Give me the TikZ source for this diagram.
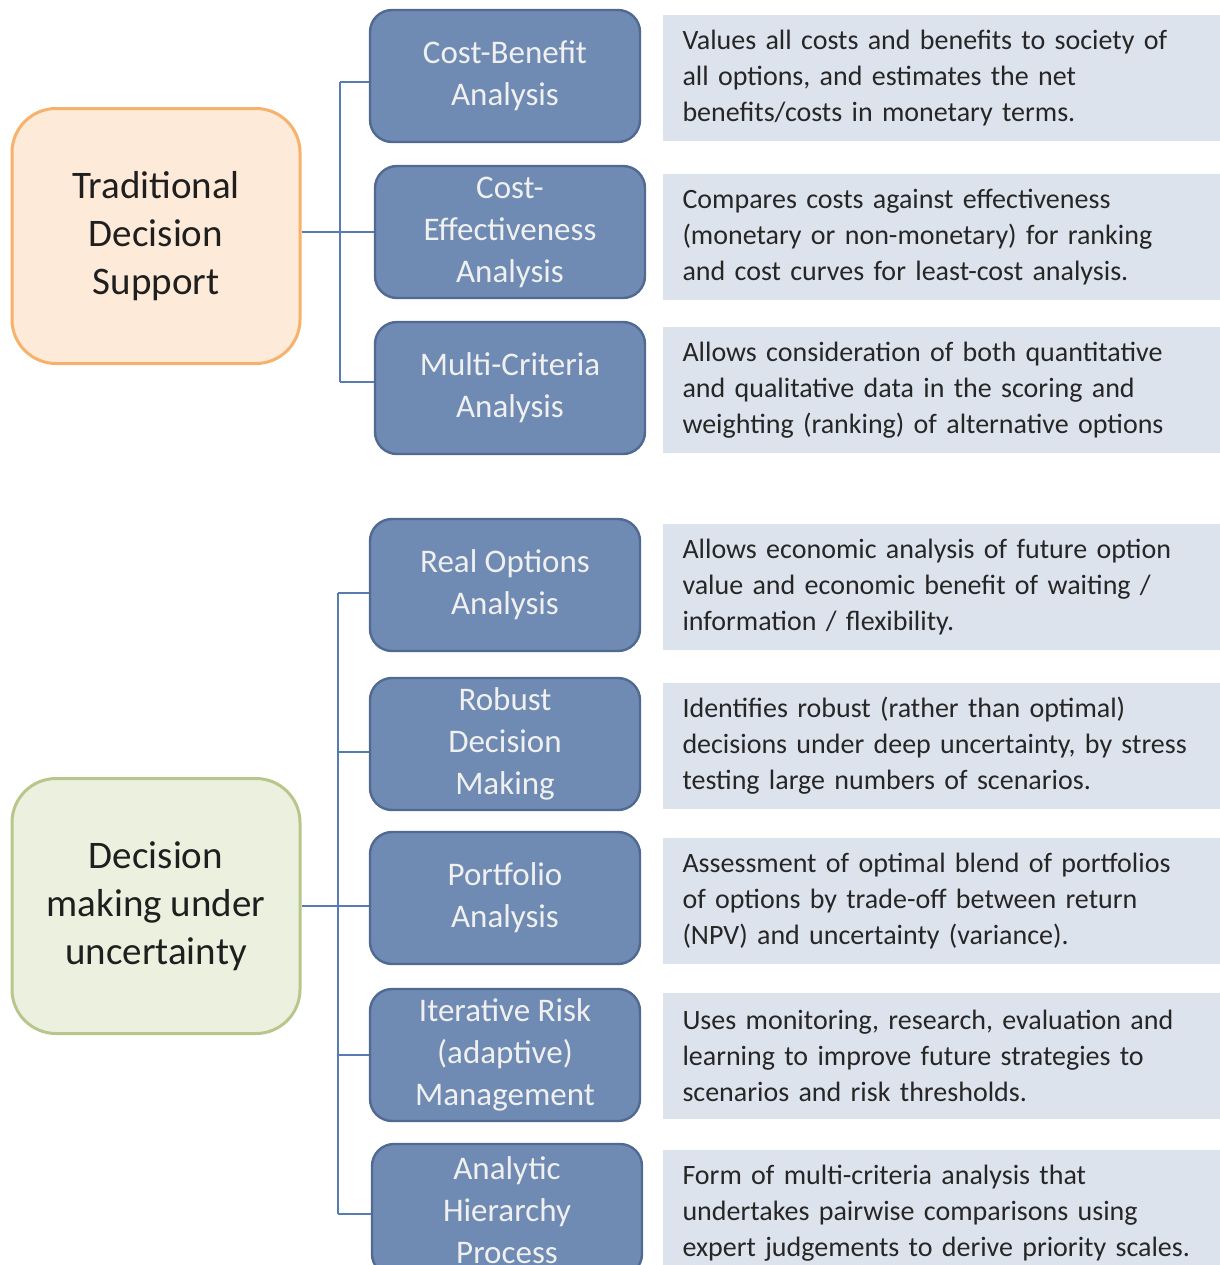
\documentclass[tikz,border=0pt]{standalone}
\usepackage{fontspec}
\setmainfont{Carlito}

\definecolor{methodfill}{RGB}{111,138,179}
\definecolor{methodline}{RGB}{80,106,145}
\definecolor{notefill}{RGB}{221,227,237}
\definecolor{tradfill}{RGB}{253,234,216}
\definecolor{tradline}{RGB}{246,178,107}
\definecolor{uncfill}{RGB}{235,240,223}
\definecolor{uncline}{RGB}{184,198,140}
\definecolor{linkcol}{RGB}{86,124,178}

\tikzset{
  group/.style={rounded corners=22pt, line width=1.5pt, minimum width=144pt,
    minimum height=127.5pt, align=center, text=black!88,
    font=\fontsize{19.5}{24}\selectfont},
  method/.style={rounded corners=11pt, fill=methodfill, draw=methodline,
    line width=1.2pt, minimum width=135pt, minimum height=66pt, align=center,
    text=white!94!black, font=\fontsize{16.5}{21}\selectfont},
  note/.style={fill=notefill, minimum width=278.5pt, minimum height=63pt,
    text width=259pt, inner xsep=9.75pt, align=left, text=black!85,
    font=\fontsize{14}{18}\selectfont},
  link/.style={draw=linkcol, line width=1pt},
}

\begin{document}
\begin{tikzpicture}[x=0.5pt, y=-0.5pt]
    \useasboundingbox (0,0) rectangle (1220,1265);
    \clip (0,0) rectangle (1220,1265);

    \node [group, fill=tradfill, draw=tradline] (trad) at (156,236) {Traditional\\Decision\\Support};
    \node [group, fill=uncfill, draw=uncline] (unc) at (156,906) {Decision\\making under\\uncertainty};

    \node [method] (cba) at (505,76) {Cost-Benefit\\Analysis};
    \node [method] (cea) at (510,232) {Cost-\\Effectiveness\\Analysis};
    \node [method] (mca) at (510,388) {Multi-Criteria\\Analysis};
    \node [method] (roa) at (505,585) {Real Options\\Analysis};
    \node [method] (rdm) at (505,744) {Robust\\Decision\\Making};
    \node [method] (pa) at (505,898) {Portfolio\\Analysis};
    \node [method] (irm) at (505,1055) {Iterative Risk\\(adaptive)\\Management};
    \node [method] (ahp) at (507,1210) {Analytic\\Hierarchy\\Process};

    \node [note] (cbanote) at (941.5,78) {Values all costs and benefits to society of\\all options, and estimates the net\\benefits/costs in monetary terms.};
    \node [note] (ceanote) at (941.5,237) {Compares costs against effectiveness\\(monetary or non-monetary) for ranking\\and cost curves for least-cost analysis.};
    \node [note] (mcanote) at (941.5,390) {Allows consideration of both quantitative\\and qualitative data in the scoring and\\weighting (ranking) of alternative options};
    \node [note] (roanote) at (941.5,587) {Allows economic analysis of future option\\value and economic benefit of waiting /\\information / flexibility.};
    \node [note] (rdmnote) at (941.5,746) {Identifies robust (rather than optimal)\\decisions under deep uncertainty, by stress\\testing large numbers of scenarios.};
    \node [note] (panote) at (941.5,901) {Assessment of optimal blend of portfolios\\of options by trade-off between return\\(NPV) and uncertainty (variance).};
    \node [note] (irmnote) at (941.5,1056) {Uses monitoring, research, evaluation and\\learning to improve future strategies to\\scenarios and risk thresholds.};
    \node [note] (ahpnote) at (941.5,1213) {Form of multi-criteria analysis that\\undertakes pairwise comparisons using\\expert judgements to derive priority scales.};

    \coordinate (ttop) at (340,82);
    \coordinate (tbot) at (340,382);
    \draw [link] (ttop) -- (tbot);
    \draw [link] (ttop) -- (ttop -| cba.west);
    \draw [link] (cea.west -| trad.east) -- (cea.west);
    \draw [link] (tbot) -- (tbot -| mca.west);

    \coordinate (utop) at (338,593);
    \coordinate (urdm) at (338,752);
    \coordinate (uirm) at (338,1055);
    \coordinate (ubot) at (338,1214);
    \draw [link] (utop) -- (ubot);
    \draw [link] (utop) -- (utop -| roa.west);
    \draw [link] (urdm) -- (urdm -| rdm.west);
    \draw [link] (unc.east) -- (unc.east -| pa.west);
    \draw [link] (uirm) -- (uirm -| irm.west);
    \draw [link] (ubot) -- (ubot -| ahp.west);
\end{tikzpicture}
\end{document}
